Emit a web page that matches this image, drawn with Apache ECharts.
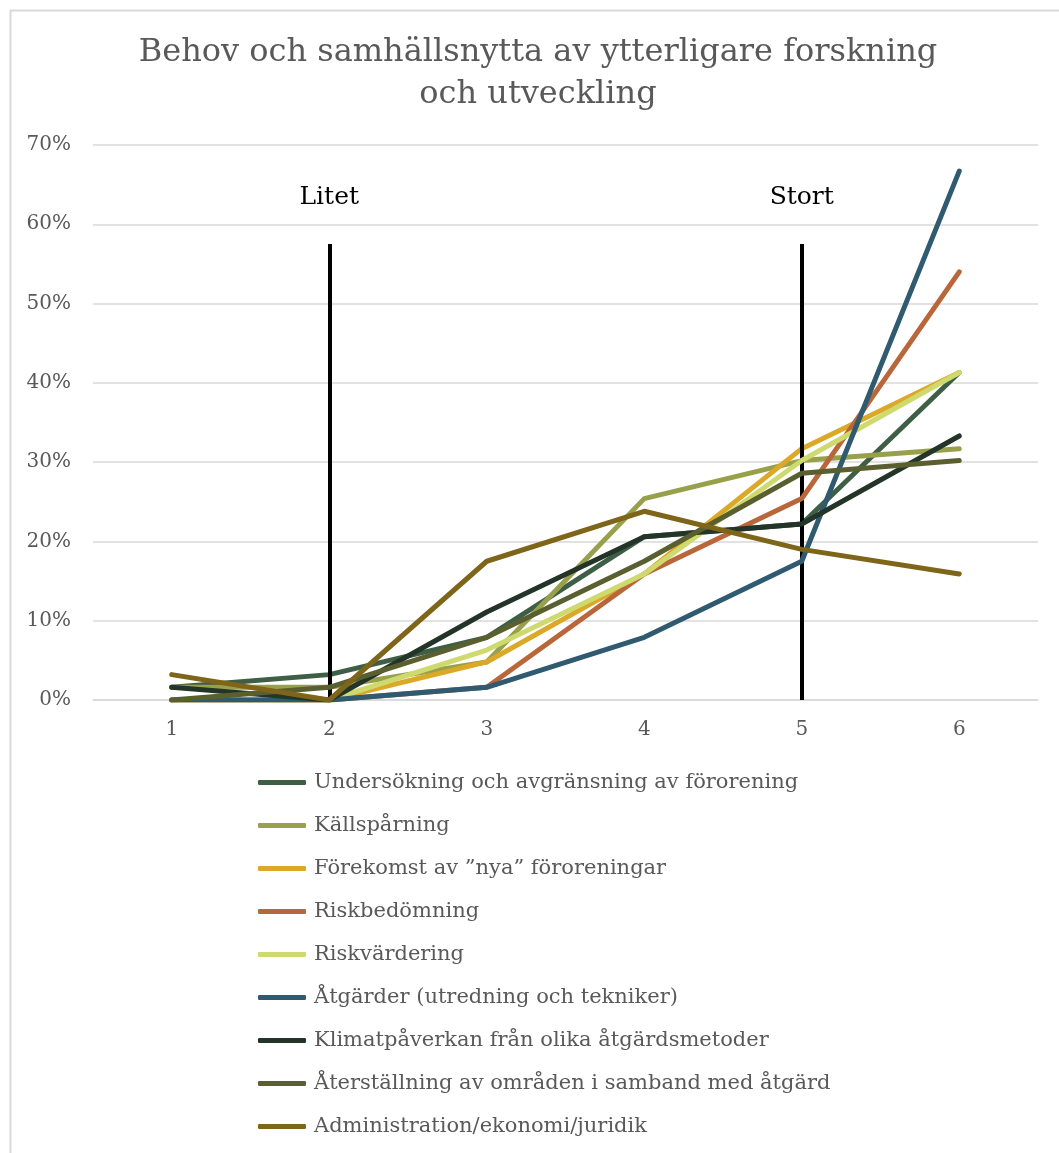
<!DOCTYPE html>
<html>
<head>
<meta charset="utf-8">
<title>Behov och samhällsnytta av ytterligare forskning och utveckling</title>
<script src="https://cdn.jsdelivr.net/npm/echarts@6/dist/echarts.min.js"></script>
<style>
  html, body { margin: 0; padding: 0; background: #ffffff; }
  #chart { width: 1059px; height: 1153px; }
</style>
</head>
<body>
<div id="chart"></div>
<script>
// Scale steps 1–6 on the x axis
const categories = ['1', '2', '3', '4', '5', '6'];

// Share of answers (%) per step
const undersokning   = [1.6, 3.2, 7.9, 20.6, 22.2, 41.3];
const kallsparning   = [1.6, 1.6, 4.8, 25.4, 30.2, 31.7];
const forekomst      = [0, 0, 4.8, 15.9, 31.7, 41.3];
const riskbedomning  = [0, 0, 1.6, 15.9, 25.4, 54.0];
const riskvardering  = [0, 0, 6.3, 15.9, 30.2, 41.3];
const atgarder       = [0, 0, 1.6, 7.9, 17.5, 66.7];
const klimatpaverkan = [1.6, 0, 11.1, 20.6, 22.2, 33.3];
const aterstallning  = [0, 1.6, 7.9, 17.5, 28.6, 30.2];
const administration = [3.2, 0, 17.5, 23.8, 19.0, 15.9];

const seriesNames = [
  'Undersökning och avgränsning av förorening',
  'Källspårning',
  'Förekomst av ”nya” föroreningar',
  'Riskbedömning',
  'Riskvärdering',
  'Åtgärder (utredning och tekniker)',
  'Klimatpåverkan från olika åtgärdsmetoder',
  'Återställning av områden i samband med åtgärd',
  'Administration/ekonomi/juridik'
];
const seriesValues = [
  undersokning, kallsparning, forekomst, riskbedomning, riskvardering,
  atgarder, klimatpaverkan, aterstallning, administration
];
const seriesColors = [
  '#3e5e45', '#99a04b', '#dba827', '#b9663a', '#cfda6e',
  '#305a70', '#233428', '#5a5f30', '#7f6519'
];

// Y-axis ticks (%)
const yMin = 0, yMax = 70, yStep = 10;

// Scale-end markers: position on the x axis, label, vertical extent (%)
const dividerSteps = ['2', '5'];
const dividerLabels = ['Litet', 'Stort'];
const dividerTop = 57.5;
const dividerBottom = 0;

const SERIF = '"DejaVu Serif", "Liberation Serif", Georgia, serif';
const TEXT = '#595959';

const chart = echarts.init(document.getElementById('chart'), null, { renderer: 'canvas' });

const lineSeries = seriesNames.map((name, i) => ({
  name: name,
  type: 'line',
  data: seriesValues[i],
  symbol: 'none',
  smooth: false,
  lineStyle: { width: 5, color: seriesColors[i], cap: 'round', join: 'round' },
  itemStyle: { color: seriesColors[i] },
  z: 2 + i
}));

// Vertical scale-end markers with their captions
lineSeries.push({
  name: 'markers',
  type: 'line',
  data: categories.map(() => null),
  symbol: 'none',
  silent: true,
  z: 20,
  markLine: {
    symbol: ['none', 'none'],
    silent: true,
    animation: false,
    lineStyle: { color: '#000000', width: 4, type: 'solid' },
    label: {
      show: true,
      position: 'end',
      distance: 34,
      color: '#000000',
      fontFamily: SERIF,
      fontSize: 25,
      formatter: p => p.name
    },
    data: dividerSteps.map((step, i) => [
      { name: dividerLabels[i], coord: [step, dividerBottom] },
      { coord: [step, dividerTop] }
    ])
  }
});

chart.setOption({
  animation: false,
  backgroundColor: '#ffffff',
  graphic: [{
    type: 'rect',
    left: 8, top: 8,
    shape: { width: 1200, height: 1300 },
    style: { fill: 'none', stroke: '#d9d9d9', lineWidth: 2 },
    silent: true
  }],
  title: {
    text: 'Behov och samhällsnytta av ytterligare forskning\noch utveckling',
    left: 533,
    top: 27,
    textAlign: 'center',
    textStyle: {
      fontFamily: SERIF,
      fontWeight: 'normal',
      fontSize: 32,
      lineHeight: 42,
      color: TEXT
    }
  },
  grid: { left: 93, right: 21, top: 145, bottom: 453, containLabel: false },
  xAxis: {
    type: 'category',
    data: categories,
    boundaryGap: true,
    axisLine: { show: true, lineStyle: { color: '#d9d9d9', width: 1.5 } },
    axisTick: { show: false },
    axisLabel: { color: TEXT, fontFamily: SERIF, fontSize: 20, margin: 20 },
    splitLine: { show: false }
  },
  yAxis: {
    type: 'value',
    min: yMin,
    max: yMax,
    interval: yStep,
    axisLine: { show: false },
    axisTick: { show: false },
    axisLabel: { color: TEXT, fontFamily: SERIF, fontSize: 20, margin: 22, formatter: '{value}%' },
    splitLine: { show: true, lineStyle: { color: '#d9d9d9', width: 1.5 } }
  },
  legend: {
    orient: 'vertical',
    left: 258,
    top: 770,
    padding: 0,
    data: seriesNames,
    icon: 'roundRect',
    itemWidth: 48,
    itemHeight: 5,
    itemGap: 18,
    textStyle: {
      color: TEXT,
      fontFamily: SERIF,
      fontSize: 21,
      lineHeight: 25,
      padding: [0, 0, 0, 3]
    }
  },
  series: lineSeries
});
</script>
</body>
</html>
